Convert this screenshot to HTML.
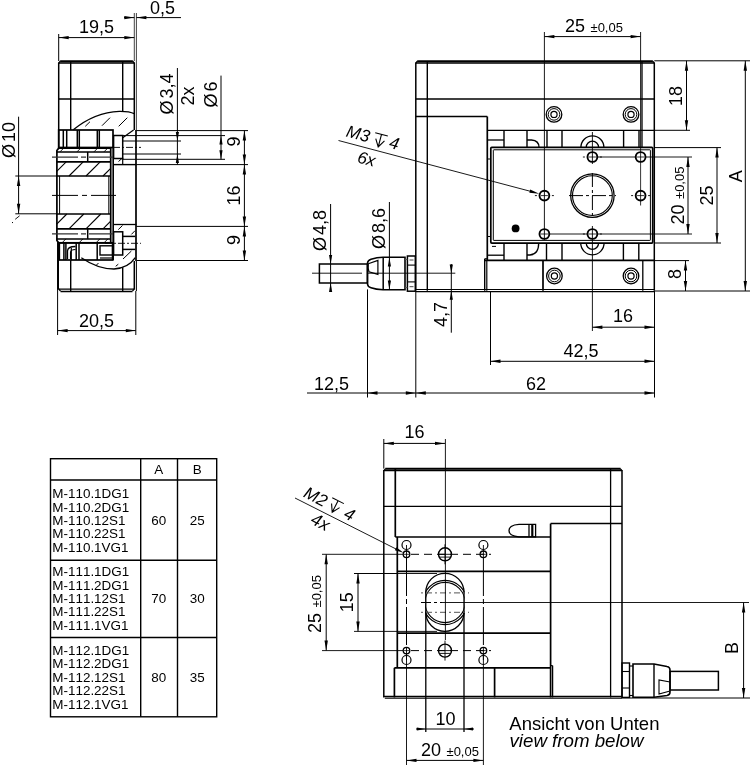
<!DOCTYPE html>
<html><head><meta charset="utf-8"><title>M-110 / M-111 / M-112</title>
<style>
html,body{margin:0;padding:0;background:#fff}
svg{display:block;filter:grayscale(1)}
svg text{font-family:"Liberation Sans","DejaVu Sans",sans-serif;fill:#000;font-kerning:none}
</style></head><body>
<svg width="750" height="765" viewBox="0 0 750 765">
<rect width="750" height="765" fill="#fff"/>
<line x1="58.7" y1="34" x2="58.7" y2="61" stroke="#000" stroke-width="1"/>
<line x1="134.3" y1="13" x2="134.3" y2="61" stroke="#444" stroke-width="1"/>
<line x1="136.4" y1="13" x2="136.4" y2="130" stroke="#444" stroke-width="1"/>
<line x1="58.7" y1="37.6" x2="134.3" y2="37.6" stroke="#000" stroke-width="1"/>
<polygon points="58.7,37.6 68.7,35.9 68.7,39.3" fill="#000"/>
<polygon points="134.3,37.6 124.3,35.9 124.3,39.3" fill="#000"/>
<text x="96.5" y="33" font-size="18" text-anchor="middle">19,5</text>
<line x1="124" y1="17.6" x2="134.3" y2="17.6" stroke="#000" stroke-width="1"/>
<polygon points="134.3,17.6 124.3,15.9 124.3,19.3" fill="#000"/>
<line x1="136.4" y1="17.6" x2="181" y2="17.6" stroke="#000" stroke-width="1"/>
<polygon points="136.4,17.6 146.4,15.9 146.4,19.3" fill="#000"/>
<text x="150" y="13.5" font-size="18" text-anchor="start">0,5</text>
<line x1="60.2" y1="61.2" x2="132.8" y2="61.2" stroke="#000" stroke-width="2"/>
<line x1="58.7" y1="62.9" x2="134.3" y2="62.9" stroke="#000" stroke-width="1.5"/>
<path d="M58.7,63.0 L60.5,61.0 M132.5,61.0 L134.3,63.0" fill="none" stroke="#000" stroke-width="1.2"/>
<line x1="58.7" y1="62.5" x2="58.7" y2="148.5" stroke="#000" stroke-width="1.5"/>
<line x1="58.1" y1="243" x2="58.1" y2="289.5" stroke="#000" stroke-width="1.8"/>
<line x1="134.3" y1="62.5" x2="134.3" y2="130" stroke="#000" stroke-width="1.5"/>
<line x1="134.3" y1="261" x2="134.3" y2="289.5" stroke="#000" stroke-width="1.5"/>
<line x1="136" y1="130" x2="136" y2="261" stroke="#000" stroke-width="1.7"/>
<line x1="136.4" y1="261" x2="136.4" y2="291" stroke="#000" stroke-width="1"/>
<line x1="60.5" y1="291.4" x2="132.5" y2="291.4" stroke="#000" stroke-width="1.5"/>
<line x1="58.7" y1="289.1" x2="134.3" y2="289.1" stroke="#000" stroke-width="1.2"/>
<path d="M58.7,289.0 L60.5,291.0 M132.5,291.0 L134.3,289.0" fill="none" stroke="#000" stroke-width="1.2"/>
<line x1="70.7" y1="61" x2="70.7" y2="130" stroke="#000" stroke-width="1.4"/>
<line x1="70.7" y1="260.3" x2="70.7" y2="291" stroke="#000" stroke-width="1.4"/>
<line x1="122.7" y1="61" x2="122.7" y2="111.3" stroke="#000" stroke-width="1.4"/>
<line x1="122.7" y1="267.3" x2="122.7" y2="291" stroke="#000" stroke-width="1.4"/>
<line x1="58.7" y1="99" x2="134.3" y2="99" stroke="#000" stroke-width="1.3"/>
<path d="M73.3,129.7 C84,121 100,112 119.3,111.3 C126,111.2 131,112 134.3,113.7" fill="none" stroke="#000" stroke-width="1.3"/>
<line x1="85.3" y1="126.3" x2="90" y2="121.7" stroke="#000" stroke-width="1"/>
<line x1="102" y1="125.7" x2="110" y2="117.7" stroke="#000" stroke-width="1"/>
<line x1="118.7" y1="126.3" x2="127.3" y2="117.7" stroke="#000" stroke-width="1"/>
<rect x="58.7" y="130" width="54.3" height="17.5" rx="0" fill="none" stroke="#000" stroke-width="1.7"/>
<line x1="63.3" y1="130" x2="63.3" y2="147.5" stroke="#000" stroke-width="1.5"/>
<line x1="66.7" y1="130" x2="66.7" y2="147.5" stroke="#000" stroke-width="1.5"/>
<line x1="77.3" y1="130" x2="77.3" y2="147.5" stroke="#000" stroke-width="1.5"/>
<line x1="79.3" y1="130" x2="79.3" y2="147.5" stroke="#000" stroke-width="1.5"/>
<line x1="97.3" y1="130" x2="97.3" y2="147.5" stroke="#000" stroke-width="1.5"/>
<line x1="99.3" y1="130" x2="99.3" y2="147.5" stroke="#000" stroke-width="1.5"/>
<path d="M58.7,148.2 L110.7,148.2 L110.7,242.8 L58.7,242.8 L56.9,240.5 L56.9,150.5 Z" fill="none" stroke="#000" stroke-width="1.7"/>
<line x1="113.2" y1="148" x2="113.2" y2="260.3" stroke="#000" stroke-width="1.6"/>
<line x1="56.7" y1="151.9" x2="110.7" y2="151.9" stroke="#000" stroke-width="1.5"/>
<line x1="56.7" y1="161.8" x2="110.7" y2="161.8" stroke="#000" stroke-width="1.7"/>
<line x1="56.7" y1="176" x2="110.7" y2="176" stroke="#000" stroke-width="1.7"/>
<line x1="56.7" y1="214" x2="110.7" y2="214" stroke="#000" stroke-width="1.7"/>
<line x1="56.7" y1="228.8" x2="110.7" y2="228.8" stroke="#000" stroke-width="1.7"/>
<line x1="56.7" y1="238.9" x2="110.7" y2="238.9" stroke="#000" stroke-width="1.5"/>
<line x1="59.6" y1="176" x2="59.6" y2="214" stroke="#000" stroke-width="1"/>
<line x1="108.8" y1="176" x2="108.8" y2="214" stroke="#000" stroke-width="1"/>
<line x1="87.7" y1="151.9" x2="87.7" y2="161.8" stroke="#000" stroke-width="1.5"/>
<line x1="87.7" y1="228.8" x2="87.7" y2="238.9" stroke="#000" stroke-width="1.5"/>
<line x1="56.7" y1="171.3" x2="66.2" y2="161.8" stroke="#000" stroke-width="1.1"/>
<line x1="69" y1="176" x2="83.2" y2="161.8" stroke="#000" stroke-width="1.1"/>
<line x1="86" y1="176" x2="100.2" y2="161.8" stroke="#000" stroke-width="1.1"/>
<line x1="103" y1="176" x2="110.7" y2="168.3" stroke="#000" stroke-width="1.1"/>
<line x1="56.7" y1="224.1" x2="66.8" y2="214" stroke="#000" stroke-width="1.1"/>
<line x1="69" y1="228.8" x2="83.8" y2="214" stroke="#000" stroke-width="1.1"/>
<line x1="86" y1="228.8" x2="100.8" y2="214" stroke="#000" stroke-width="1.1"/>
<line x1="103" y1="228.8" x2="110.7" y2="221.1" stroke="#000" stroke-width="1.1"/>
<line x1="60" y1="151.8" x2="63.3" y2="148.5" stroke="#000" stroke-width="0.9"/>
<line x1="77" y1="151.8" x2="80.3" y2="148.5" stroke="#000" stroke-width="0.9"/>
<line x1="94" y1="151.8" x2="97.3" y2="148.5" stroke="#000" stroke-width="0.9"/>
<line x1="104" y1="151.8" x2="107.3" y2="148.5" stroke="#000" stroke-width="0.9"/>
<line x1="62" y1="242.8" x2="65.9" y2="238.9" stroke="#000" stroke-width="0.9"/>
<line x1="79" y1="242.8" x2="82.9" y2="238.9" stroke="#000" stroke-width="0.9"/>
<line x1="96" y1="242.8" x2="99.9" y2="238.9" stroke="#000" stroke-width="0.9"/>
<line x1="104" y1="242.8" x2="107.9" y2="238.9" stroke="#000" stroke-width="0.9"/>
<line x1="52" y1="157.1" x2="112.7" y2="157.1" stroke="#333" stroke-width="1.2" stroke-dasharray="26 3 5 3"/>
<line x1="52" y1="233.9" x2="112.7" y2="233.9" stroke="#333" stroke-width="1.2" stroke-dasharray="26 3 5 3"/>
<line x1="52" y1="195.4" x2="116" y2="195.4" stroke="#000" stroke-width="1" stroke-dasharray="26 4 5 4"/>
<rect x="113.6" y="135.5" width="9.1" height="23" rx="0" fill="none" stroke="#000" stroke-width="1.5"/>
<line x1="122.7" y1="137.7" x2="133.6" y2="130" stroke="#000" stroke-width="1.2"/>
<line x1="122.7" y1="135.6" x2="136.4" y2="135.6" stroke="#000" stroke-width="1"/>
<line x1="122.7" y1="141" x2="136.4" y2="141" stroke="#000" stroke-width="1"/>
<line x1="122.7" y1="154" x2="136.4" y2="154" stroke="#000" stroke-width="1"/>
<line x1="122.7" y1="159.3" x2="136.4" y2="159.3" stroke="#000" stroke-width="1"/>
<line x1="113" y1="147.4" x2="141" y2="147.4" stroke="#000" stroke-width="0.9" stroke-dasharray="7 2 2 2"/>
<line x1="113" y1="164.6" x2="136.4" y2="164.6" stroke="#000" stroke-width="1.4"/>
<line x1="122.7" y1="157.8" x2="122.7" y2="164.6" stroke="#000" stroke-width="1.2"/>
<line x1="118.5" y1="161.5" x2="122.7" y2="157.8" stroke="#000" stroke-width="1"/>
<rect x="113.6" y="231.8" width="9.1" height="23.2" rx="0" fill="none" stroke="#000" stroke-width="1.5"/>
<line x1="114" y1="224.5" x2="136.4" y2="224.5" stroke="#000" stroke-width="1.3"/>
<line x1="122.7" y1="236.4" x2="135.3" y2="236.4" stroke="#000" stroke-width="1.5"/>
<line x1="122.7" y1="249.4" x2="135.3" y2="249.4" stroke="#000" stroke-width="1.5"/>
<line x1="105" y1="243.3" x2="141" y2="243.3" stroke="#000" stroke-width="0.9" stroke-dasharray="7 2 2 2"/>
<line x1="118.3" y1="229.6" x2="122.5" y2="225.5" stroke="#000" stroke-width="1"/>
<line x1="131.4" y1="234.4" x2="135" y2="230.7" stroke="#000" stroke-width="1"/>
<rect x="59.3" y="242.8" width="53.3" height="17.2" rx="0" fill="none" stroke="#000" stroke-width="1.7"/>
<line x1="63.9" y1="243" x2="63.9" y2="260" stroke="#000" stroke-width="1.5"/>
<line x1="65.9" y1="243" x2="65.9" y2="260" stroke="#000" stroke-width="1.5"/>
<line x1="76.2" y1="243" x2="76.2" y2="260" stroke="#000" stroke-width="1.5"/>
<line x1="79" y1="243" x2="79" y2="260" stroke="#000" stroke-width="1.5"/>
<line x1="97.2" y1="243" x2="97.2" y2="260" stroke="#000" stroke-width="1.5"/>
<line x1="71.3" y1="248" x2="71.3" y2="260.3" stroke="#000" stroke-width="1.2"/>
<path d="M67.5,259 L67.5,251 Q67.5,246.5 75.5,246.5" fill="none" stroke="#000" stroke-width="1.3"/>
<path d="M70.5,259 L70.5,252.5 Q70.5,249.5 75.5,249.5" fill="none" stroke="#000" stroke-width="1.1"/>
<rect x="100" y="245.8" width="12.6" height="9.2" rx="0" fill="none" stroke="#000" stroke-width="1.4"/>
<line x1="100" y1="258" x2="112.6" y2="258" stroke="#000" stroke-width="1.2"/>
<path d="M81.3,257.7 C92,265 104,269 114,269 C124,268.5 131,264 135.3,257.7" fill="none" stroke="#000" stroke-width="1.3"/>
<line x1="123" y1="259" x2="131.4" y2="251" stroke="#000" stroke-width="1"/>
<line x1="115.7" y1="266.3" x2="118.3" y2="264.2" stroke="#000" stroke-width="1"/>
<line x1="96" y1="265.5" x2="98.5" y2="263" stroke="#000" stroke-width="1"/>
<line x1="136.4" y1="130.6" x2="248" y2="130.6" stroke="#000" stroke-width="1"/>
<line x1="136.4" y1="135.6" x2="225" y2="135.6" stroke="#000" stroke-width="1"/>
<line x1="136.4" y1="141" x2="181" y2="141" stroke="#000" stroke-width="1"/>
<line x1="136.4" y1="154" x2="181" y2="154" stroke="#000" stroke-width="1"/>
<line x1="136.4" y1="159.3" x2="225" y2="159.3" stroke="#000" stroke-width="1"/>
<line x1="136.4" y1="164.6" x2="248" y2="164.6" stroke="#000" stroke-width="1"/>
<line x1="136.4" y1="226.4" x2="248" y2="226.4" stroke="#000" stroke-width="1"/>
<line x1="136.4" y1="260.5" x2="248" y2="260.5" stroke="#000" stroke-width="1"/>
<line x1="177.4" y1="68" x2="177.4" y2="164.6" stroke="#000" stroke-width="1"/>
<polygon points="177.4,141 175.8,132 179,132" fill="#000"/>
<polygon points="177.4,154 175.8,163 179,163" fill="#000"/>
<text x="173" y="114.5" font-size="18" text-anchor="start" transform="rotate(-90 173 114.5)">Ø<tspan dx="2">3,4</tspan></text>
<text x="194" y="105.5" font-size="18" text-anchor="start" transform="rotate(-90 194 105.5)">2x</text>
<line x1="221" y1="75.6" x2="221" y2="159.3" stroke="#000" stroke-width="1"/>
<polygon points="221,135.6 219.4,144.6 222.6,144.6" fill="#000"/>
<polygon points="221,159.3 219.4,150.3 222.6,150.3" fill="#000"/>
<text x="217" y="107.5" font-size="18" text-anchor="start" transform="rotate(-90 217 107.5)">Ø<tspan dx="2">6</tspan></text>
<line x1="244.4" y1="130.6" x2="244.4" y2="260.5" stroke="#000" stroke-width="1"/>
<polygon points="244.4,130.6 242.7,140.6 246.1,140.6" fill="#000"/>
<polygon points="244.4,164.6 242.7,154.6 246.1,154.6" fill="#000"/>
<polygon points="244.4,164.6 242.7,174.6 246.1,174.6" fill="#000"/>
<polygon points="244.4,226.4 242.7,216.4 246.1,216.4" fill="#000"/>
<polygon points="244.4,226.4 242.7,236.4 246.1,236.4" fill="#000"/>
<polygon points="244.4,260.5 242.7,250.5 246.1,250.5" fill="#000"/>
<text x="239.6" y="141.5" font-size="18" text-anchor="middle" transform="rotate(-90 239.6 141.5)">9</text>
<text x="239.6" y="195.5" font-size="18" text-anchor="middle" transform="rotate(-90 239.6 195.5)">16</text>
<text x="239.6" y="240" font-size="18" text-anchor="middle" transform="rotate(-90 239.6 240)">9</text>
<line x1="15.3" y1="176" x2="56.7" y2="176" stroke="#000" stroke-width="1"/>
<line x1="15.3" y1="213.8" x2="56.7" y2="213.8" stroke="#000" stroke-width="1"/>
<line x1="18.6" y1="116.7" x2="18.6" y2="213.8" stroke="#000" stroke-width="1"/>
<polygon points="18.6,176 16.9,186 20.3,186" fill="#000"/>
<polygon points="18.6,213.8 16.9,203.8 20.3,203.8" fill="#000"/>
<text x="14.7" y="158" font-size="18" text-anchor="start" transform="rotate(-90 14.7 158)">Ø<tspan dx="2">10</tspan></text>
<line x1="15.2" y1="219.3" x2="19.6" y2="215.8" stroke="#000" stroke-width="0.9"/>
<line x1="12" y1="222.8" x2="13" y2="222.3" stroke="#000" stroke-width="1"/>
<line x1="57.6" y1="242" x2="57.6" y2="335" stroke="#000" stroke-width="1"/>
<line x1="135.8" y1="291" x2="135.8" y2="335" stroke="#000" stroke-width="1"/>
<line x1="57.6" y1="330.6" x2="135.8" y2="330.6" stroke="#000" stroke-width="1"/>
<polygon points="57.6,330.6 67.6,328.9 67.6,332.3" fill="#000"/>
<polygon points="135.8,330.6 125.8,328.9 125.8,332.3" fill="#000"/>
<text x="96.5" y="326.6" font-size="18" text-anchor="middle">20,5</text>
<line x1="417.3" y1="61.2" x2="652.8" y2="61.2" stroke="#000" stroke-width="2"/>
<line x1="415.8" y1="62.9" x2="654.3" y2="62.9" stroke="#000" stroke-width="1.5"/>
<path d="M415.8,63.0 L417.6,61.0 M652.5,61.0 L654.3,63.0" fill="none" stroke="#000" stroke-width="1.2"/>
<line x1="415.8" y1="62.5" x2="415.8" y2="290.8" stroke="#000" stroke-width="1.5"/>
<line x1="654.3" y1="62.5" x2="654.3" y2="290.8" stroke="#000" stroke-width="1.5"/>
<line x1="427.3" y1="61" x2="427.3" y2="290.8" stroke="#000" stroke-width="1.4"/>
<line x1="642" y1="61" x2="642" y2="148" stroke="#000" stroke-width="1.3"/>
<line x1="415.8" y1="99" x2="654.3" y2="99" stroke="#000" stroke-width="1.3"/>
<line x1="415.8" y1="116.5" x2="487.3" y2="116.5" stroke="#000" stroke-width="1.7"/>
<line x1="487.3" y1="116.5" x2="487.3" y2="260" stroke="#000" stroke-width="1.7"/>
<line x1="487.3" y1="130.4" x2="654.3" y2="130.4" stroke="#000" stroke-width="1.4"/>
<line x1="504" y1="130.4" x2="504" y2="147.3" stroke="#000" stroke-width="1.4"/>
<line x1="527" y1="130.4" x2="527" y2="147.3" stroke="#000" stroke-width="1.4"/>
<line x1="547" y1="130.4" x2="547" y2="147.3" stroke="#000" stroke-width="1.4"/>
<line x1="562" y1="130.4" x2="562" y2="147.3" stroke="#000" stroke-width="1.4"/>
<line x1="623.6" y1="130.4" x2="623.6" y2="147.3" stroke="#000" stroke-width="1.4"/>
<line x1="639" y1="130.4" x2="639" y2="147.3" stroke="#000" stroke-width="1.4"/>
<line x1="487.3" y1="140" x2="504" y2="140" stroke="#000" stroke-width="1.3"/>
<path d="M527,140 L531.5,140 Q539,140.5 539,147.3" fill="none" stroke="#000" stroke-width="1.3"/>
<path d="M580.9,147.3 A11.5,11.5 0 0 1 603.9,147.3" fill="none" stroke="#000" stroke-width="1.3"/>
<path d="M586.2,147.3 A6.2,6.2 0 0 1 598.6,147.3" fill="none" stroke="#000" stroke-width="1.3"/>
<rect x="490.8" y="147.3" width="161.9" height="95.8" rx="1" fill="none" stroke="#000" stroke-width="1.7"/>
<rect x="493.3" y="149.8" width="157.1" height="90.6" rx="0.5" fill="none" stroke="#000" stroke-width="1"/>
<line x1="487.3" y1="159" x2="490.8" y2="159" stroke="#000" stroke-width="1"/>
<line x1="487.3" y1="236.5" x2="490.8" y2="236.5" stroke="#000" stroke-width="1"/>
<circle cx="544.4" cy="195.6" r="4.9" fill="none" stroke="#000" stroke-width="1.9"/>
<line x1="540.9" y1="195.6" x2="547.9" y2="195.6" stroke="#000" stroke-width="0.8"/>
<circle cx="544.4" cy="234" r="4.9" fill="none" stroke="#000" stroke-width="1.9"/>
<line x1="540.9" y1="234" x2="547.9" y2="234" stroke="#000" stroke-width="0.8"/>
<circle cx="592.4" cy="157" r="4.9" fill="none" stroke="#000" stroke-width="1.9"/>
<line x1="588.9" y1="157" x2="595.9" y2="157" stroke="#000" stroke-width="0.8"/>
<circle cx="592.4" cy="234" r="4.9" fill="none" stroke="#000" stroke-width="1.9"/>
<line x1="588.9" y1="234" x2="595.9" y2="234" stroke="#000" stroke-width="0.8"/>
<circle cx="640.6" cy="157" r="4.9" fill="none" stroke="#000" stroke-width="1.9"/>
<line x1="637.1" y1="157" x2="644.1" y2="157" stroke="#000" stroke-width="0.8"/>
<circle cx="640.6" cy="195.6" r="4.9" fill="none" stroke="#000" stroke-width="1.9"/>
<line x1="637.1" y1="195.6" x2="644.1" y2="195.6" stroke="#000" stroke-width="0.8"/>
<line x1="582.9" y1="157" x2="584.9" y2="157" stroke="#000" stroke-width="0.9"/>
<line x1="599.9" y1="157" x2="601.9" y2="157" stroke="#000" stroke-width="0.9"/>
<line x1="582.9" y1="234" x2="584.9" y2="234" stroke="#000" stroke-width="0.9"/>
<line x1="599.9" y1="234" x2="601.9" y2="234" stroke="#000" stroke-width="0.9"/>
<line x1="631.1" y1="195.6" x2="633.1" y2="195.6" stroke="#000" stroke-width="0.9"/>
<line x1="648.1" y1="195.6" x2="650.1" y2="195.6" stroke="#000" stroke-width="0.9"/>
<line x1="534.9" y1="195.6" x2="536.9" y2="195.6" stroke="#000" stroke-width="0.9"/>
<line x1="551.9" y1="195.6" x2="553.9" y2="195.6" stroke="#000" stroke-width="0.9"/>
<line x1="640.6" y1="148" x2="640.6" y2="205.5" stroke="#000" stroke-width="0.8"/>
<line x1="592.4" y1="132" x2="592.4" y2="164" stroke="#000" stroke-width="0.9"/>
<line x1="592.4" y1="226" x2="592.4" y2="243" stroke="#000" stroke-width="0.9"/>
<circle cx="592.4" cy="195.6" r="21.7" fill="none" stroke="#000" stroke-width="1.3"/>
<circle cx="592.4" cy="195.6" r="19.9" fill="none" stroke="#000" stroke-width="1.1"/>
<line x1="569" y1="195.6" x2="616" y2="195.6" stroke="#000" stroke-width="1" stroke-dasharray="14 3 3 3"/>
<line x1="592.4" y1="173" x2="592.4" y2="219" stroke="#000" stroke-width="1" stroke-dasharray="14 3 3 3"/>
<circle cx="515.6" cy="228.4" r="3.9" fill="#000" stroke="#000" stroke-width="0"/>
<line x1="504" y1="243.1" x2="504" y2="260" stroke="#000" stroke-width="1.4"/>
<line x1="527" y1="243.1" x2="527" y2="260" stroke="#000" stroke-width="1.4"/>
<line x1="546.5" y1="243.1" x2="546.5" y2="260" stroke="#000" stroke-width="1.4"/>
<line x1="562" y1="243.1" x2="562" y2="260" stroke="#000" stroke-width="1.4"/>
<line x1="623.4" y1="243.1" x2="623.4" y2="260" stroke="#000" stroke-width="1.4"/>
<line x1="638.8" y1="243.1" x2="638.8" y2="260" stroke="#000" stroke-width="1.4"/>
<line x1="487.3" y1="255.2" x2="504" y2="255.2" stroke="#000" stroke-width="1.3"/>
<line x1="492" y1="246.4" x2="496" y2="246.4" stroke="#000" stroke-width="1"/>
<path d="M527,255 L530,255 Q538.7,254.5 538.7,243.1" fill="none" stroke="#000" stroke-width="1.3"/>
<path d="M580.7,243.1 A11.7,11.7 0 0 0 604.1,243.1" fill="none" stroke="#000" stroke-width="1.3"/>
<path d="M586.2,243.1 A6.2,6.2 0 0 0 598.6,243.1" fill="none" stroke="#000" stroke-width="1.3"/>
<line x1="484.7" y1="260.3" x2="654.3" y2="260.3" stroke="#000" stroke-width="1.7"/>
<line x1="415.8" y1="289.5" x2="654.3" y2="289.5" stroke="#000" stroke-width="1.2"/>
<line x1="415.8" y1="291.6" x2="654.3" y2="291.6" stroke="#000" stroke-width="1.3"/>
<line x1="484.7" y1="258.7" x2="484.7" y2="290.8" stroke="#000" stroke-width="1.4"/>
<line x1="486.8" y1="260" x2="486.8" y2="290.8" stroke="#000" stroke-width="1.2"/>
<line x1="484.7" y1="258.7" x2="487.3" y2="258.7" stroke="#000" stroke-width="1"/>
<line x1="543" y1="260" x2="543" y2="290.8" stroke="#000" stroke-width="1.7"/>
<line x1="642.8" y1="260" x2="642.8" y2="290.8" stroke="#000" stroke-width="1.3"/>
<circle cx="554" cy="114.4" r="7.8" fill="none" stroke="#000" stroke-width="1.3"/>
<circle cx="554" cy="114.4" r="5.8" fill="none" stroke="#000" stroke-width="1"/>
<circle cx="554" cy="114.4" r="3.1" fill="none" stroke="#000" stroke-width="1.2"/>
<circle cx="631" cy="114.4" r="7.8" fill="none" stroke="#000" stroke-width="1.3"/>
<circle cx="631" cy="114.4" r="5.8" fill="none" stroke="#000" stroke-width="1"/>
<circle cx="631" cy="114.4" r="3.1" fill="none" stroke="#000" stroke-width="1.2"/>
<circle cx="554.4" cy="276" r="7.8" fill="none" stroke="#000" stroke-width="1.3"/>
<circle cx="554.4" cy="276" r="5.8" fill="none" stroke="#000" stroke-width="1"/>
<circle cx="554.4" cy="276" r="3.1" fill="none" stroke="#000" stroke-width="1.2"/>
<circle cx="631" cy="276" r="7.8" fill="none" stroke="#000" stroke-width="1.3"/>
<circle cx="631" cy="276" r="5.8" fill="none" stroke="#000" stroke-width="1"/>
<circle cx="631" cy="276" r="3.1" fill="none" stroke="#000" stroke-width="1.2"/>
<rect x="319.4" y="264" width="48" height="19" rx="0" fill="none" stroke="#000" stroke-width="1.5"/>
<path d="M367.5,263 Q367.8,260.2 371,259.2 Q377,257.4 383,257.2 L405,257.2 L405,289.8 L383,289.8 Q376,289.5 371,287.8 Q367.8,287 367.5,284 Z" fill="none" stroke="#000" stroke-width="1.6"/>
<line x1="383.2" y1="257.2" x2="383.2" y2="289.8" stroke="#000" stroke-width="1.5"/>
<path d="M368.3,263.7 L377.9,260.4 L377.9,274.4 L369,271.8 Q367.6,268 368.3,263.7" fill="none" stroke="#000" stroke-width="1.2"/>
<rect x="407.4" y="256" width="7.9" height="35.2" rx="0" fill="none" stroke="#000" stroke-width="1.5"/>
<line x1="405" y1="259.5" x2="407.4" y2="259.5" stroke="#555" stroke-width="1"/>
<line x1="405" y1="287.5" x2="407.4" y2="287.5" stroke="#555" stroke-width="1"/>
<line x1="407.4" y1="265.1" x2="415.3" y2="265.1" stroke="#000" stroke-width="1.1"/>
<line x1="407.4" y1="281.9" x2="415.3" y2="281.9" stroke="#000" stroke-width="1.1"/>
<line x1="409.5" y1="260" x2="413.5" y2="260" stroke="#666" stroke-width="1.2"/>
<line x1="409.5" y1="286.6" x2="413.5" y2="286.6" stroke="#666" stroke-width="1.2"/>
<line x1="312" y1="273.2" x2="362" y2="273.2" stroke="#000" stroke-width="0.9"/>
<line x1="368" y1="273.2" x2="455.3" y2="273.2" stroke="#000" stroke-width="0.9"/>
<line x1="544.4" y1="32" x2="544.4" y2="240" stroke="#000" stroke-width="0.9"/>
<line x1="640.6" y1="32" x2="640.6" y2="148" stroke="#000" stroke-width="0.9"/>
<line x1="544.4" y1="36.6" x2="640.6" y2="36.6" stroke="#000" stroke-width="1"/>
<polygon points="544.4,36.6 554.4,34.9 554.4,38.3" fill="#000"/>
<polygon points="640.6,36.6 630.6,34.9 630.6,38.3" fill="#000"/>
<text x="565" y="32" font-size="18" text-anchor="start">25</text>
<text x="590.5" y="32" font-size="13" text-anchor="start">±0,05</text>
<line x1="654.3" y1="60.8" x2="750" y2="60.8" stroke="#000" stroke-width="1"/>
<line x1="654.3" y1="130.3" x2="690" y2="130.3" stroke="#000" stroke-width="1"/>
<line x1="686.5" y1="60.8" x2="686.5" y2="130.3" stroke="#000" stroke-width="1"/>
<polygon points="686.5,60.8 684.8,70.8 688.2,70.8" fill="#000"/>
<polygon points="686.5,130.3 684.8,120.3 688.2,120.3" fill="#000"/>
<text x="681.5" y="96" font-size="18" text-anchor="middle" transform="rotate(-90 681.5 96)">18</text>
<line x1="745.3" y1="60.8" x2="745.3" y2="291" stroke="#000" stroke-width="1"/>
<polygon points="745.3,60.8 743.6,70.8 747,70.8" fill="#000"/>
<polygon points="745.3,291 743.6,281 747,281" fill="#000"/>
<text x="742" y="176.2" font-size="18" text-anchor="middle" transform="rotate(-90 742 176.2)">A</text>
<line x1="654.3" y1="291" x2="750" y2="291" stroke="#000" stroke-width="1"/>
<line x1="654.3" y1="147.6" x2="721" y2="147.6" stroke="#000" stroke-width="1"/>
<line x1="654.3" y1="243" x2="721" y2="243" stroke="#000" stroke-width="1"/>
<line x1="717" y1="147.6" x2="717" y2="243" stroke="#000" stroke-width="1"/>
<polygon points="717,147.6 715.3,157.6 718.7,157.6" fill="#000"/>
<polygon points="717,243 715.3,233 718.7,233" fill="#000"/>
<text x="713" y="195.5" font-size="18" text-anchor="middle" transform="rotate(-90 713 195.5)">25</text>
<line x1="598" y1="157" x2="635" y2="157" stroke="#000" stroke-width="0.9"/>
<line x1="646" y1="157" x2="692" y2="157" stroke="#000" stroke-width="0.9"/>
<line x1="550" y1="234" x2="587" y2="234" stroke="#000" stroke-width="0.9"/>
<line x1="598" y1="234" x2="692" y2="234" stroke="#000" stroke-width="0.9"/>
<line x1="688" y1="157" x2="688" y2="234" stroke="#000" stroke-width="1"/>
<polygon points="688,157 686.3,167 689.7,167" fill="#000"/>
<polygon points="688,234 686.3,224 689.7,224" fill="#000"/>
<text x="684" y="224.5" font-size="18" text-anchor="start" transform="rotate(-90 684 224.5)">20</text>
<text x="684" y="199" font-size="13" text-anchor="start" transform="rotate(-90 684 199)">±0,05</text>
<line x1="654.3" y1="260.6" x2="689" y2="260.6" stroke="#000" stroke-width="1"/>
<line x1="685.5" y1="260.6" x2="685.5" y2="291" stroke="#000" stroke-width="1"/>
<polygon points="685.5,260.6 683.8,270.6 687.2,270.6" fill="#000"/>
<polygon points="685.5,291 683.8,281 687.2,281" fill="#000"/>
<text x="681" y="274" font-size="18" text-anchor="middle" transform="rotate(-90 681 274)">8</text>
<line x1="592.4" y1="243" x2="592.4" y2="331" stroke="#000" stroke-width="0.9"/>
<line x1="654.5" y1="291" x2="654.5" y2="397.5" stroke="#000" stroke-width="1"/>
<line x1="592.4" y1="327.2" x2="654.5" y2="327.2" stroke="#000" stroke-width="1"/>
<polygon points="592.4,327.2 602.4,325.5 602.4,328.9" fill="#000"/>
<polygon points="654.5,327.2 644.5,325.5 644.5,328.9" fill="#000"/>
<text x="623" y="322.4" font-size="18" text-anchor="middle">16</text>
<line x1="490.5" y1="291" x2="490.5" y2="365" stroke="#000" stroke-width="1"/>
<line x1="490.5" y1="361.3" x2="654.5" y2="361.3" stroke="#000" stroke-width="1"/>
<polygon points="490.5,361.3 500.5,359.6 500.5,363" fill="#000"/>
<polygon points="654.5,361.3 644.5,359.6 644.5,363" fill="#000"/>
<text x="581" y="357" font-size="18" text-anchor="middle">42,5</text>
<line x1="415.8" y1="291" x2="415.8" y2="397.5" stroke="#000" stroke-width="1"/>
<line x1="367.5" y1="289.4" x2="367.5" y2="397.5" stroke="#000" stroke-width="1"/>
<line x1="307" y1="393" x2="654.5" y2="393" stroke="#000" stroke-width="1"/>
<polygon points="367.5,393 377.5,391.3 377.5,394.7" fill="#000"/>
<polygon points="415.8,393 405.8,391.3 405.8,394.7" fill="#000"/>
<polygon points="415.8,393 425.8,391.3 425.8,394.7" fill="#000"/>
<polygon points="654.5,393 644.5,391.3 644.5,394.7" fill="#000"/>
<text x="536" y="389.6" font-size="18" text-anchor="middle">62</text>
<text x="331.5" y="389.6" font-size="18" text-anchor="middle">12,5</text>
<line x1="330.6" y1="204" x2="330.6" y2="292" stroke="#000" stroke-width="1"/>
<polygon points="330.6,264 329,255 332.2,255" fill="#000"/>
<polygon points="330.6,283 329,292 332.2,292" fill="#000"/>
<text x="326" y="251" font-size="18" text-anchor="start" transform="rotate(-90 326 251)">Ø<tspan dx="2">4,8</tspan></text>
<line x1="389.4" y1="202" x2="389.4" y2="289.4" stroke="#000" stroke-width="1"/>
<polygon points="389.4,257.4 387.8,266.4 391,266.4" fill="#000"/>
<polygon points="389.4,289.4 387.8,280.4 391,280.4" fill="#000"/>
<text x="384.7" y="249" font-size="18" text-anchor="start" transform="rotate(-90 384.7 249)">Ø<tspan dx="2">8,6</tspan></text>
<line x1="451.3" y1="264" x2="451.3" y2="332.7" stroke="#000" stroke-width="1"/>
<polygon points="451.3,273.4 449.7,264.4 452.9,264.4" fill="#000"/>
<polygon points="451.3,290.8 449.7,299.8 452.9,299.8" fill="#000"/>
<text x="446.7" y="327" font-size="18" text-anchor="start" transform="rotate(-90 446.7 327)">4,7</text>
<line x1="338.5" y1="140.5" x2="530" y2="191.2" stroke="#000" stroke-width="0.9"/>
<polygon points="539.2,193.7 529.4,192.7 530.2,189.6" fill="#000"/>
<text x="345.3" y="136.3" font-size="17" text-anchor="start" transform="rotate(14.8 345.3 136.3)" font-style="italic">M3</text>
<g transform="translate(378.2,147) rotate(14.8)"><path d="M-6.5,-13 L6.5,-13 M0,-13 L0,0 M-4.5,-7.5 L0,0 L4.5,-7.5" fill="none" stroke="#000" stroke-width="1.1"/></g>
<text x="388.3" y="147.4" font-size="17" text-anchor="start" transform="rotate(14.8 388.3 147.4)" font-style="italic">4</text>
<text x="356.4" y="162.2" font-size="17" text-anchor="start" transform="rotate(14.8 356.4 162.2)" font-style="italic">6x</text>
<line x1="385.3" y1="468.8" x2="620.5" y2="468.8" stroke="#000" stroke-width="2"/>
<line x1="383.8" y1="470.5" x2="622" y2="470.5" stroke="#000" stroke-width="1.5"/>
<path d="M383.8,470.6 L385.6,468.6 M620.2,468.6 L622.0,470.6" fill="none" stroke="#000" stroke-width="1.2"/>
<line x1="383.8" y1="470.1" x2="383.8" y2="697.4" stroke="#000" stroke-width="1.5"/>
<line x1="622" y1="470.1" x2="622" y2="697.4" stroke="#000" stroke-width="1.5"/>
<line x1="384.8" y1="698.2" x2="622" y2="698.2" stroke="#000" stroke-width="1.3"/>
<line x1="383.8" y1="696.3" x2="622" y2="696.3" stroke="#000" stroke-width="1.2"/>
<line x1="395.3" y1="468.6" x2="395.3" y2="537" stroke="#000" stroke-width="1.7"/>
<line x1="397.3" y1="537" x2="397.3" y2="668" stroke="#000" stroke-width="1.7"/>
<line x1="383.8" y1="506.4" x2="622" y2="506.4" stroke="#000" stroke-width="1.3"/>
<line x1="395.3" y1="537" x2="550.6" y2="537" stroke="#000" stroke-width="1.7"/>
<line x1="550.6" y1="523.6" x2="550.6" y2="697.4" stroke="#000" stroke-width="1.7"/>
<line x1="550.6" y1="523.6" x2="622" y2="523.6" stroke="#000" stroke-width="1.5"/>
<line x1="610.6" y1="468.6" x2="610.6" y2="697.4" stroke="#000" stroke-width="1.3"/>
<line x1="397.3" y1="571.4" x2="550.6" y2="571.4" stroke="#000" stroke-width="1.7"/>
<line x1="397.3" y1="633.2" x2="550.6" y2="633.2" stroke="#000" stroke-width="1.7"/>
<line x1="354" y1="573.5" x2="437" y2="573.5" stroke="#000" stroke-width="0.9"/>
<line x1="354" y1="631.4" x2="437" y2="631.4" stroke="#000" stroke-width="0.9"/>
<line x1="394.4" y1="667.8" x2="550.6" y2="667.8" stroke="#000" stroke-width="1.7"/>
<line x1="394.4" y1="667.8" x2="394.4" y2="697.4" stroke="#000" stroke-width="1.7"/>
<line x1="494.6" y1="667.8" x2="494.6" y2="697.4" stroke="#000" stroke-width="1.7"/>
<line x1="552.6" y1="665.6" x2="552.6" y2="697.4" stroke="#000" stroke-width="1.3"/>
<line x1="550.6" y1="665.6" x2="552.6" y2="665.6" stroke="#000" stroke-width="1.2"/>
<circle cx="406.5" cy="545" r="4.5" fill="none" stroke="#000" stroke-width="1.2"/>
<circle cx="483.4" cy="545" r="4.5" fill="none" stroke="#000" stroke-width="1.2"/>
<circle cx="406.5" cy="660" r="4.5" fill="none" stroke="#000" stroke-width="1.2"/>
<circle cx="483.4" cy="660" r="4.5" fill="none" stroke="#000" stroke-width="1.2"/>
<circle cx="406.5" cy="554.3" r="3.3" fill="none" stroke="#000" stroke-width="1.3"/>
<line x1="404" y1="554.3" x2="409" y2="554.3" stroke="#000" stroke-width="0.8"/>
<circle cx="483.4" cy="554.3" r="3.3" fill="none" stroke="#000" stroke-width="1.3"/>
<line x1="480.9" y1="554.3" x2="485.9" y2="554.3" stroke="#000" stroke-width="0.8"/>
<circle cx="406.5" cy="650.6" r="3.3" fill="none" stroke="#000" stroke-width="1.3"/>
<line x1="404" y1="650.6" x2="409" y2="650.6" stroke="#000" stroke-width="0.8"/>
<circle cx="483.4" cy="650.6" r="3.3" fill="none" stroke="#000" stroke-width="1.3"/>
<line x1="480.9" y1="650.6" x2="485.9" y2="650.6" stroke="#000" stroke-width="0.8"/>
<circle cx="445" cy="554.3" r="6.5" fill="none" stroke="#000" stroke-width="1.4"/>
<line x1="438.7" y1="554.3" x2="451.3" y2="554.3" stroke="#000" stroke-width="0.9"/>
<line x1="439.4" y1="557.1" x2="450.6" y2="557.1" stroke="#000" stroke-width="0.9"/>
<line x1="445" y1="544.3" x2="445" y2="564.3" stroke="#000" stroke-width="0.9"/>
<circle cx="445" cy="650.6" r="6.5" fill="none" stroke="#000" stroke-width="1.4"/>
<line x1="438.7" y1="650.6" x2="451.3" y2="650.6" stroke="#000" stroke-width="0.9"/>
<line x1="439.4" y1="653.4" x2="450.6" y2="653.4" stroke="#000" stroke-width="0.9"/>
<line x1="445" y1="640.6" x2="445" y2="660.6" stroke="#000" stroke-width="0.9"/>
<line x1="411" y1="554.3" x2="491" y2="554.3" stroke="#000" stroke-width="1" stroke-dasharray="8 5"/>
<line x1="411" y1="650.6" x2="491" y2="650.6" stroke="#000" stroke-width="1" stroke-dasharray="8 5"/>
<line x1="406.5" y1="558" x2="406.5" y2="647" stroke="#000" stroke-width="1" stroke-dasharray="38 3 5 3"/>
<line x1="483.4" y1="558" x2="483.4" y2="647" stroke="#000" stroke-width="1" stroke-dasharray="38 3 5 3"/>
<line x1="406.5" y1="545" x2="406.5" y2="558" stroke="#000" stroke-width="0.9"/>
<line x1="406.5" y1="647" x2="406.5" y2="660" stroke="#000" stroke-width="0.9"/>
<line x1="483.4" y1="545" x2="483.4" y2="558" stroke="#000" stroke-width="0.9"/>
<line x1="483.4" y1="647" x2="483.4" y2="660" stroke="#000" stroke-width="0.9"/>
<path d="M425.8,732 L425.8,592.4 A19.1,19.1 0 0 1 464,592.4 L464,732" fill="none" stroke="#000" stroke-width="1.3"/>
<path d="M425.8,612.3 A19.1,19.1 0 0 0 464,612.3" fill="none" stroke="#000" stroke-width="1.3"/>
<clipPath id="slotc"><rect x="425.2" y="570" width="39.4" height="70"/></clipPath>
<g clip-path="url(#slotc)"><circle cx="445" cy="602.5" r="22.1" fill="none" stroke="#000" stroke-width="1.3"/><circle cx="445" cy="602.5" r="20.1" fill="none" stroke="#000" stroke-width="1.1"/></g>
<line x1="421" y1="592.9" x2="469" y2="592.9" stroke="#555" stroke-width="1" stroke-dasharray="2 3 6 3"/>
<line x1="421" y1="612.3" x2="469" y2="612.3" stroke="#555" stroke-width="1" stroke-dasharray="2 3 6 3"/>
<line x1="421" y1="602.5" x2="442" y2="602.5" stroke="#000" stroke-width="1" stroke-dasharray="10 3 3 3"/>
<line x1="442" y1="602.5" x2="749" y2="602.5" stroke="#000" stroke-width="0.9"/>
<line x1="445.4" y1="439" x2="445.4" y2="640" stroke="#000" stroke-width="0.9"/>
<path d="M535.6,524.4 L519,524.4 C511.5,524.6 509,528 509,530.6 C509,533.4 511.5,536.6 519,536.8 L535.6,536.8 Z" fill="none" stroke="#000" stroke-width="1.3"/>
<line x1="529" y1="524.4" x2="529" y2="536.8" stroke="#000" stroke-width="1.3"/>
<line x1="532.3" y1="524.4" x2="532.3" y2="536.8" stroke="#000" stroke-width="2.2"/>
<rect x="622" y="663" width="7.5" height="34.4" rx="0" fill="none" stroke="#000" stroke-width="1.4"/>
<line x1="622" y1="671.5" x2="629.5" y2="671.5" stroke="#000" stroke-width="1.1"/>
<line x1="622" y1="688" x2="629.5" y2="688" stroke="#000" stroke-width="1.1"/>
<line x1="629.5" y1="666" x2="633" y2="666" stroke="#000" stroke-width="1.1"/>
<line x1="629.5" y1="695.5" x2="633" y2="695.5" stroke="#000" stroke-width="1.1"/>
<path d="M633,664 L654,664 L667,666.5 Q670,667 670,670 L670,692 Q670,695 667,695.5 L654,697.2 L633,697.2 Z" fill="none" stroke="#000" stroke-width="1.6"/>
<line x1="654" y1="664" x2="654" y2="697.2" stroke="#000" stroke-width="1.4"/>
<path d="M670,682 L659,680 L659,694 L670,691" fill="none" stroke="#000" stroke-width="1.1"/>
<rect x="670" y="671.4" width="48.4" height="18.6" rx="0" fill="none" stroke="#000" stroke-width="1.5"/>
<line x1="383.8" y1="439" x2="383.8" y2="468.6" stroke="#000" stroke-width="1"/>
<line x1="383.8" y1="443.4" x2="445" y2="443.4" stroke="#000" stroke-width="1"/>
<polygon points="383.8,443.4 393.8,441.7 393.8,445.1" fill="#000"/>
<polygon points="445,443.4 435,441.7 435,445.1" fill="#000"/>
<text x="414.5" y="438.4" font-size="18" text-anchor="middle">16</text>
<line x1="322" y1="554.3" x2="403" y2="554.3" stroke="#000" stroke-width="0.9"/>
<line x1="322" y1="650.6" x2="403" y2="650.6" stroke="#000" stroke-width="0.9"/>
<line x1="326.2" y1="554.3" x2="326.2" y2="650.6" stroke="#000" stroke-width="1"/>
<polygon points="326.2,554.3 324.5,564.3 327.9,564.3" fill="#000"/>
<polygon points="326.2,650.6 324.5,640.6 327.9,640.6" fill="#000"/>
<text x="321" y="633" font-size="18" text-anchor="start" transform="rotate(-90 321 633)">25</text>
<text x="321" y="607.5" font-size="13" text-anchor="start" transform="rotate(-90 321 607.5)">±0,05</text>
<line x1="354" y1="573.5" x2="397" y2="573.5" stroke="#000" stroke-width="0.9"/>
<line x1="358" y1="573.5" x2="358" y2="631.4" stroke="#000" stroke-width="1"/>
<polygon points="358,573.5 356.3,583.5 359.7,583.5" fill="#000"/>
<polygon points="358,631.4 356.3,621.4 359.7,621.4" fill="#000"/>
<text x="353" y="602.3" font-size="18" text-anchor="middle" transform="rotate(-90 353 602.3)">15</text>
<line x1="416" y1="729" x2="474" y2="729" stroke="#000" stroke-width="1"/>
<polygon points="425.8,729 416.8,727.4 416.8,730.6" fill="#000"/>
<polygon points="464,729 473,727.4 473,730.6" fill="#000"/>
<text x="445.5" y="724.6" font-size="18" text-anchor="middle">10</text>
<line x1="406.5" y1="654" x2="406.5" y2="765" stroke="#000" stroke-width="0.9"/>
<line x1="483.4" y1="654" x2="483.4" y2="765" stroke="#000" stroke-width="0.9"/>
<line x1="406.5" y1="760.4" x2="483.4" y2="760.4" stroke="#000" stroke-width="1"/>
<polygon points="406.5,760.4 416.5,758.7 416.5,762.1" fill="#000"/>
<polygon points="483.4,760.4 473.4,758.7 473.4,762.1" fill="#000"/>
<text x="421" y="756" font-size="18" text-anchor="start">20</text>
<text x="446.5" y="756" font-size="13" text-anchor="start">±0,05</text>
<line x1="622" y1="698" x2="750" y2="698" stroke="#000" stroke-width="1"/>
<line x1="743.6" y1="602.5" x2="743.6" y2="698" stroke="#000" stroke-width="1"/>
<polygon points="743.6,602.5 741.9,612.5 745.3,612.5" fill="#000"/>
<polygon points="743.6,698 741.9,688 745.3,688" fill="#000"/>
<text x="738" y="648" font-size="18" text-anchor="middle" transform="rotate(-90 738 648)">B</text>
<line x1="295" y1="498" x2="398" y2="550" stroke="#000" stroke-width="0.9"/>
<polygon points="403.5,552.8 394.8,550.2 396.3,547.2" fill="#000"/>
<text x="302.5" y="496.5" font-size="17" text-anchor="start" transform="rotate(26.8 302.5 496.5)" font-style="italic">M2</text>
<g transform="translate(332.2,512.3) rotate(26.8)"><path d="M-6.5,-13 L6.5,-13 M0,-13 L0,0 M-4.5,-7.5 L0,0 L4.5,-7.5" fill="none" stroke="#000" stroke-width="1.1"/></g>
<text x="342.8" y="517.2" font-size="17" text-anchor="start" transform="rotate(26.8 342.8 517.2)" font-style="italic">4</text>
<text x="309.5" y="523" font-size="17.5" text-anchor="start" transform="rotate(26.8 309.5 523)" font-style="italic">4x</text>
<text x="509.3" y="730" font-size="18.5" text-anchor="start">Ansicht von Unten</text>
<text x="509.5" y="746.8" font-size="18.7" text-anchor="start" font-style="italic">view from below</text>
<rect x="50.5" y="458.7" width="166.2" height="258.1" rx="0" fill="none" stroke="#000" stroke-width="1.4"/>
<line x1="140.7" y1="458.7" x2="140.7" y2="716.8" stroke="#000" stroke-width="1.4"/>
<line x1="177.5" y1="458.7" x2="177.5" y2="716.8" stroke="#000" stroke-width="1.4"/>
<line x1="50.5" y1="480" x2="216.7" y2="480" stroke="#000" stroke-width="1.4"/>
<line x1="50.5" y1="560.3" x2="216.7" y2="560.3" stroke="#000" stroke-width="1.4"/>
<line x1="50.5" y1="637.5" x2="216.7" y2="637.5" stroke="#000" stroke-width="1.4"/>
<text x="158.8" y="474" font-size="13.45" text-anchor="middle">A</text>
<text x="197.2" y="474" font-size="13.45" text-anchor="middle">B</text>
<text x="52.3" y="498.1" font-size="13.45" text-anchor="start">M-110.1DG1</text>
<text x="52.3" y="511.5" font-size="13.45" text-anchor="start">M-110.2DG1</text>
<text x="52.3" y="524.9" font-size="13.45" text-anchor="start">M-110.12S1</text>
<text x="52.3" y="538.3" font-size="13.45" text-anchor="start">M-110.22S1</text>
<text x="52.3" y="551.7" font-size="13.45" text-anchor="start">M-110.1VG1</text>
<text x="158.8" y="524.9" font-size="13.45" text-anchor="middle">60</text>
<text x="197.2" y="524.9" font-size="13.45" text-anchor="middle">25</text>
<text x="52.3" y="576.2" font-size="13.45" text-anchor="start">M-111.1DG1</text>
<text x="52.3" y="589.6" font-size="13.45" text-anchor="start">M-111.2DG1</text>
<text x="52.3" y="603" font-size="13.45" text-anchor="start">M-111.12S1</text>
<text x="52.3" y="616.4" font-size="13.45" text-anchor="start">M-111.22S1</text>
<text x="52.3" y="629.8" font-size="13.45" text-anchor="start">M-111.1VG1</text>
<text x="158.8" y="603" font-size="13.45" text-anchor="middle">70</text>
<text x="197.2" y="603" font-size="13.45" text-anchor="middle">30</text>
<text x="52.3" y="654.9" font-size="13.45" text-anchor="start">M-112.1DG1</text>
<text x="52.3" y="668.3" font-size="13.45" text-anchor="start">M-112.2DG1</text>
<text x="52.3" y="681.7" font-size="13.45" text-anchor="start">M-112.12S1</text>
<text x="52.3" y="695.1" font-size="13.45" text-anchor="start">M-112.22S1</text>
<text x="52.3" y="708.5" font-size="13.45" text-anchor="start">M-112.1VG1</text>
<text x="158.8" y="681.7" font-size="13.45" text-anchor="middle">80</text>
<text x="197.2" y="681.7" font-size="13.45" text-anchor="middle">35</text>
</svg>
</body></html>
